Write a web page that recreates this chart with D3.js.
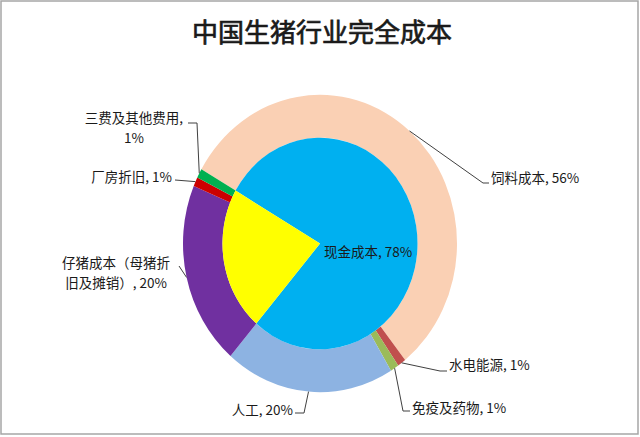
<!DOCTYPE html>
<html lang="zh">
<head>
<meta charset="UTF-8">
<title>中国生猪行业完全成本</title>
<script src="https://d3js.org/d3.v7.min.js"></script>
<style>
  body { margin: 0; background: #fff; }
  svg text { font-family: "Noto Sans CJK SC", "Noto Sans", sans-serif; fill: #1a1a1a; }
</style>
</head>
<body>
<svg id="chart" width="640" height="437"></svg>
<script>
// outer ring: full cost breakdown
var outerNames = ["饲料成本", "水电能源", "免疫及药物", "人工", "仔猪成本（母猪折旧及摊销）", "厂房折旧", "三费及其他费用"];
var outerValues = [56, 1, 1, 20, 20, 1, 1];
var outerColors = ["#FAD0B4", "#C0504D", "#9BBB59", "#8DB3E2", "#7030A0", "#CC0000", "#00B050"];

// inner pie: cash cost vs the rest
var innerNames = ["现金成本", ""];
var innerValues = [78, 22];
var innerColors = ["#00B0F0", "#FFFF00"];

// label text lines and placement (text anchor + leader elbow)
var outerLabels = [
  {lines: ["饲料成本, 56%"], x: 491, y: 183, anchor: "start", leader: [[483, 183], [489, 183]]},
  {lines: ["水电能源, 1%"], x: 449, y: 370, anchor: "start", leader: [[440, 371], [447, 371]]},
  {lines: ["免疫及药物, 1%"], x: 412, y: 413, anchor: "start", leader: [[403, 411], [410, 411]]},
  {lines: ["人工, 20%"], x: 293, y: 415, anchor: "end", leader: [[304, 413], [295, 413]]},
  {lines: ["仔猪成本（母猪折", "旧及摊销）, 20%"], x: 116, y: 268, anchor: "middle", leader: [[179, 266]]},
  {lines: ["厂房折旧, 1%"], x: 172, y: 182, anchor: "end", leader: [[175, 180]]},
  {lines: ["三费及其他费用,", "1%"], x: 134, y: 123, anchor: "middle", leader: [[197, 123], [188, 123]]}
];

var width = 640, height = 437;
var cx = 320, cy = 243.5;
var rInner = 97.5, rOuter = 137;
var squash = 1.085; // reference is stretched vertically
var start = 300 * Math.PI / 180;

var svg = d3.select("#chart");

svg.append("rect")
  .attr("x", 1).attr("y", 1)
  .attr("width", width - 3).attr("height", height - 4)
  .attr("fill", "#fff")
  .attr("stroke", "#a6a6a6")
  .attr("stroke-width", 1.5);

svg.append("text")
  .attr("x", 322).attr("y", 42)
  .attr("text-anchor", "middle")
  .style("font-size", "26px")
  .style("stroke", "#1a1a1a")
  .style("stroke-width", 0.7)
  .text("中国生猪行业完全成本");

var pie = d3.pie().sort(null).startAngle(start).endAngle(start + 2 * Math.PI);

var g = svg.append("g")
  .attr("transform", "translate(" + cx + "," + cy + ") scale(1," + squash + ")");

var outerArc = d3.arc().innerRadius(rInner).outerRadius(rOuter);
var innerArc = d3.arc().innerRadius(0).outerRadius(rInner);

var outerData = pie(outerValues);
var innerData = pie(innerValues);

g.selectAll("path.outer")
  .data(outerData)
  .enter().append("path")
  .attr("class", "outer")
  .attr("d", outerArc)
  .attr("fill", function(d, i) { return outerColors[i]; });

g.selectAll("path.inner")
  .data(innerData)
  .enter().append("path")
  .attr("class", "inner")
  .attr("d", innerArc)
  .attr("fill", function(d, i) { return innerColors[i]; });

// point on the outer edge at a slice's mid angle, in page coordinates
function edgePoint(d) {
  var a = (d.startAngle + d.endAngle) / 2;
  return [cx + rOuter * Math.sin(a), cy - rOuter * squash * Math.cos(a)];
}

var line = d3.line();

outerData.forEach(function(d, i) {
  var lab = outerLabels[i];
  var pts = [edgePoint(d)].concat(lab.leader);
  svg.append("path")
    .attr("d", line(pts))
    .attr("fill", "none")
    .attr("stroke", "#404040")
    .attr("stroke-width", 1);

  var t = svg.append("text")
    .attr("x", lab.x).attr("y", lab.y)
    .attr("text-anchor", lab.anchor)
    .style("font-size", "13.5px");
  lab.lines.forEach(function(s, j) {
    t.append("tspan").attr("x", lab.x).attr("dy", j === 0 ? 0 : 20).text(s);
  });
});

// cash cost label sits inside the blue slice
var cash = innerData[0];
var ca = (cash.startAngle + cash.endAngle) / 2;
svg.append("text")
  .attr("x", cx + rInner * 0.5 * Math.sin(ca))
  .attr("y", cy + 13)
  .attr("text-anchor", "middle")
  .style("font-size", "13.5px")
  .text(innerNames[0] + ", " + innerValues[0] + "%");
</script>
</body>
</html>
